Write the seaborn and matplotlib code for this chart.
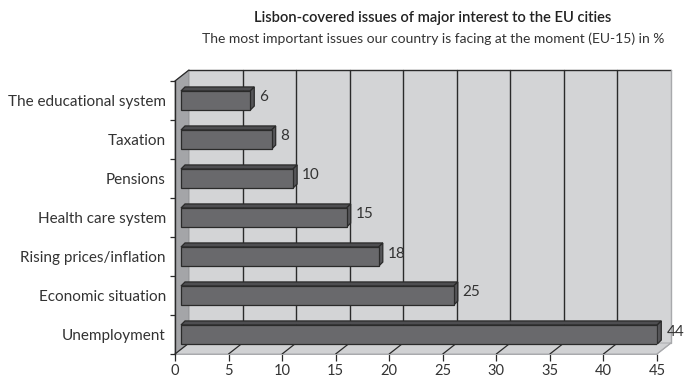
import matplotlib
matplotlib.use("Agg")
import matplotlib.pyplot as plt
import matplotlib.transforms as mtransforms
from matplotlib.patches import Polygon
from matplotlib.lines import Line2D
import pandas as pd
import seaborn as sns

# ---- data ---------------------------------------------------------------
issues = ["The educational system", "Taxation", "Pensions", "Health care system",
          "Rising prices/inflation", "Economic situation", "Unemployment"]
shares = [6, 8, 10, 15, 18, 25, 44]
x_ticks = [0, 5, 10, 15, 20, 25, 30, 35, 40, 45]

title = "Lisbon-covered issues of major interest to the EU cities"
subtitle = "The most important issues our country is facing at the moment (EU-15) in %"

df = pd.DataFrame({"issue": issues, "share": shares})

# ---- style --------------------------------------------------------------
sns.set_theme(style="white")
plt.rcParams["font.family"] = ["Lato", "DejaVu Sans"]
TEXT = "#333333"
DARK = "#2a2a2a"
WALL = "#d3d4d6"
SIDE = "#a4a5a8"
FLOOR = "#d0d1d3"
FRONT = "#69696c"
TOP = "#4e4e51"
RSIDE = "#555558"

W, H = 684, 379
DPI = 100
fig = plt.figure(figsize=(W / DPI, H / DPI), dpi=DPI)
ax = fig.add_axes([175 / W, 1 - 354 / H, 482 / W, 273 / H])
ax.set_facecolor("none")

# chart depth in pixels: back wall offset and bar thickness
DX, DY = 14, 11
BX, BY = 4, 4
SHIFT = 11      # bars' front faces sit behind the front plane
LEAD = 6        # bars start this far in front of their own zero

sns.barplot(data=df, x="share", y="issue", orient="h", width=0.49,
            color=FRONT, saturation=1, edgecolor=DARK, linewidth=0.9,
            ax=ax, zorder=5)
ax.set_xlim(0, 45)
ax.set_ylim(len(issues) - 0.5, -0.5)
ax.set_xticks(x_ticks)
ax.set_xlabel("")
ax.set_ylabel("")

ident = mtransforms.IdentityTransform()


def px(x, y, depth=0.0):
    X, Y = ax.transData.transform((x, y))
    return X + depth * DX, Y + depth * DY


y_top, y_bot = -0.5, len(issues) - 0.5
xmax = x_ticks[-1]

# back wall, left side wall, floor
back = Polygon([px(0, y_top, 1), px(xmax, y_top, 1), px(xmax, y_bot, 1), px(0, y_bot, 1)],
               closed=True, transform=ident, facecolor=WALL, edgecolor="none", zorder=0)
side = Polygon([px(0, y_top, 0), px(0, y_top, 1), px(0, y_bot, 1), px(0, y_bot, 0)],
               closed=True, transform=ident, facecolor=SIDE, edgecolor="#8c8d90",
               linewidth=0.6, zorder=0.5)
floor = Polygon([px(0, y_bot, 0), px(xmax, y_bot, 0), px(xmax, y_bot, 1), px(0, y_bot, 1)],
                closed=True, transform=ident, facecolor=FLOOR, edgecolor="#a8a9ac",
                linewidth=0.7, zorder=0.5)
for p in (back, side, floor):
    p.set_clip_on(False)
    ax.add_patch(p)


def seg(p0, p1, color, lw, z=1):
    ln = Line2D([p0[0], p1[0]], [p0[1], p1[1]], transform=ident, color=color,
                linewidth=lw, zorder=z, clip_on=False)
    ax.add_line(ln)


# wall outlines
seg(px(0, y_top, 1), px(xmax, y_top, 1), DARK, 1.0)
seg(px(0, y_top, 0), px(0, y_top, 1), DARK, 0.9)
seg(px(xmax, y_top, 1), px(xmax, y_bot, 1), "#a8a9ac", 1.0)
# gridlines on the back wall and their traces across the floor
for v in x_ticks:
    if 0 < v < xmax:
        seg(px(v, y_top, 1), px(v, y_bot, 1), DARK, 1.0)
    seg(px(v, y_bot, 0), px(v, y_bot, 1), DARK if v < xmax else "#a8a9ac", 0.9)

# bars: move to their depth, extend to the side wall, add top & side faces
bar_trans = ax.transData + mtransforms.ScaledTranslation(SHIFT / DPI, 0, fig.dpi_scale_trans)
unit_px = ax.transData.transform((1, 0))[0] - ax.transData.transform((0, 0))[0]
lead_units = (SHIFT - LEAD) / unit_px

bars = [p for p in ax.patches if p.get_zorder() == 5]
for patch, value in zip(bars, shares):
    patch.set_transform(bar_trans)
    patch.set_x(-lead_units)
    patch.set_width(value + lead_units)
    bb = patch.get_window_extent()
    x0, x1, y0, y1 = bb.x0, bb.x1, bb.y0, bb.y1
    topf = Polygon([(x0, y1), (x1, y1), (x1 + BX, y1 + BY), (x0 + BX, y1 + BY)], closed=True,
                   transform=ident, facecolor=TOP, edgecolor=DARK, linewidth=0.9, zorder=4)
    sidef = Polygon([(x1, y0), (x1, y1), (x1 + BX, y1 + BY), (x1 + BX, y0 + BY)], closed=True,
                    transform=ident, facecolor=RSIDE, edgecolor=DARK, linewidth=0.9, zorder=4)
    for p in (topf, sidef):
        p.set_clip_on(False)
        ax.add_patch(p)
    yc = patch.get_y() + patch.get_height() / 2
    ax.annotate(f"{value}", xy=(value, yc), xycoords=bar_trans,
                xytext=(9 * 72 / DPI, 3 * 72 / DPI), textcoords="offset points",
                ha="left", va="center", fontsize=11, color=TEXT,
                annotation_clip=False, zorder=6)

# axes: dark front left edge, light floor edge
for s in ("top", "right"):
    ax.spines[s].set_visible(False)
ax.spines["left"].set_color(DARK)
ax.spines["left"].set_linewidth(1.0)
ax.spines["left"].set_zorder(6)
ax.spines["bottom"].set_color("#a8a9ac")
ax.spines["bottom"].set_linewidth(0.7)

ax.set_yticks(range(len(issues)))
ax.set_yticklabels(issues)
ax.set_yticks([i - 0.5 for i in range(len(issues) + 1)], minor=True)
ax.tick_params(axis="y", which="major", length=0, pad=6.5, labelsize=11, labelcolor=TEXT)
ax.tick_params(axis="y", which="minor", left=True, length=3.6, width=0.9, color=DARK, direction="out")
ax.tick_params(axis="x", which="major", bottom=True, length=5, width=0.9, color=DARK,
               direction="out", pad=2.5, labelsize=10.5, labelcolor=TEXT)

fig.text(433 / W, 1 - 18 / H, title, ha="center", va="center", fontsize=10.6,
         fontweight="semibold", color="#222222")
fig.text(433 / W, 1 - 39 / H, subtitle, ha="center", va="center", fontsize=10,
         color=TEXT)

fig.savefig("out.png", dpi=DPI, facecolor="white")
